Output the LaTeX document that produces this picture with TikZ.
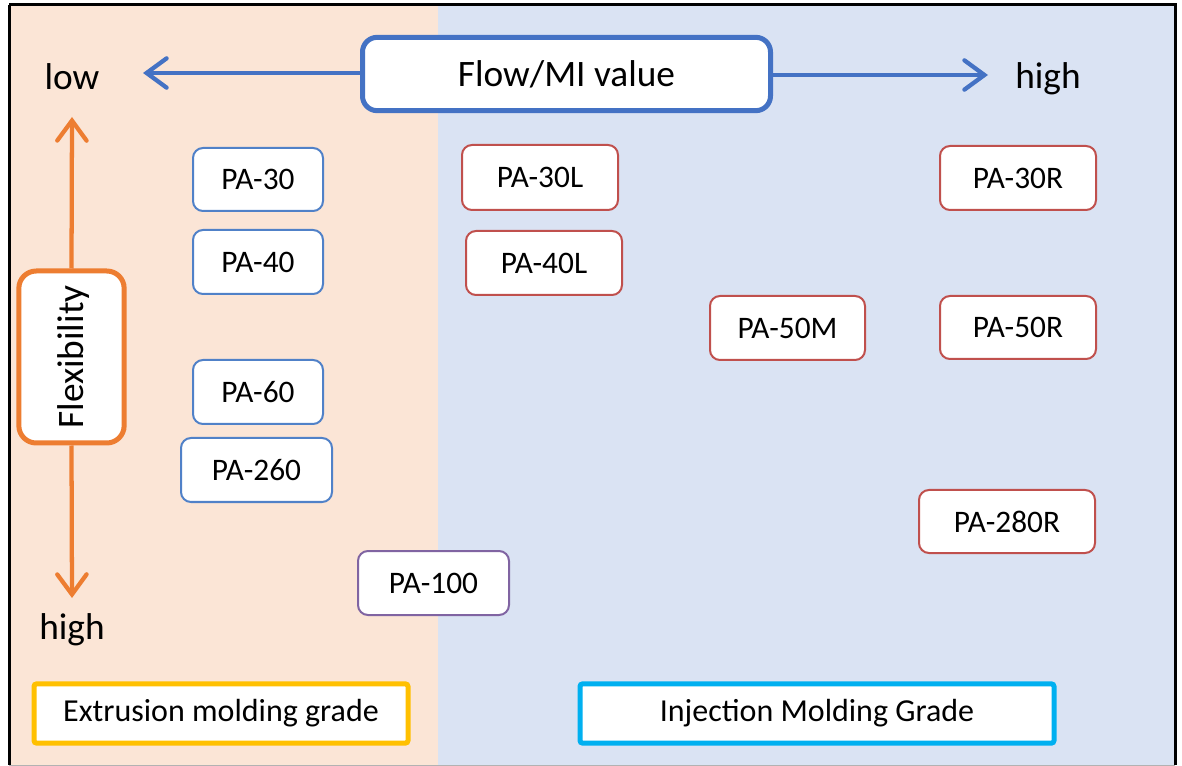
\documentclass[tikz,border=0pt]{standalone}
\usepackage{fontspec}
\setmainfont{Carlito}
\usetikzlibrary{arrows.meta}
\definecolor{beige}{HTML}{FBE5D6}
\definecolor{paleblue}{HTML}{DAE3F3}
\definecolor{mblue}{HTML}{4472C4}
\definecolor{bblue}{HTML}{5081C8}
\definecolor{mred}{HTML}{C0504D}
\definecolor{mpurple}{HTML}{8064A2}
\definecolor{morange}{HTML}{ED7D31}
\definecolor{mgold}{HTML}{FFC000}
\definecolor{mcyan}{HTML}{00B0F0}
\tikzset{
  pa/.style={draw, fill=white, rounded corners=7.5pt, line width=1.5pt, inner sep=0pt,
    font=\fontsize{23.5}{28}\selectfont},
  pablue/.style={pa, draw=bblue},
  pared/.style={pa, draw=mred},
  papurple/.style={pa, draw=mpurple},
  biglabel/.style={font=\fontsize{28}{33}\selectfont, inner sep=0pt},
  gradebox/.style={draw, fill=white, line width=3.75pt, rounded corners=2pt, inner sep=0pt,
    font=\fontsize{24}{28}\selectfont},
  axisarrow/.style={line width=3.2pt, -{Straight Barb[length=15pt, width=22pt, line cap=round]}}
}
\begin{document}
\begin{tikzpicture}[x=0.75pt, y=-0.75pt]
\useasboundingbox (0,0) rectangle (1182,766);
\fill[beige] (9,5) rectangle (438,765);
\fill[paleblue] (438,5) rectangle (1175,765);
\draw[line width=2.25pt, black] (9,5) -- (1175,5) -- (1175,765);
\draw[line width=2.25pt, black] (9,765) -- (9,5);
\draw[line width=0.75pt, black!30] (9,765) -- (1175,765);

% Flow / MI
\node[draw=mblue, fill=white, line width=3.75pt, rounded corners=11pt, minimum width=306pt, minimum height=55pt, font=\fontsize{28}{33}\selectfont] (flow) at (566.5,74) {Flow/MI value};
\node[biglabel] (low) at (72,77) {low};
\node[biglabel] (high1) at (1048,79) {high};
\coordinate (flowL) at (143,73);
\coordinate (flowR) at (988,75);
\draw[axisarrow, mblue] (flow.west |- 0,73) -- (flowL);
\draw[axisarrow, mblue] (flow.east |- 0,75) -- (flowR);

% Flexibility
\node[draw=morange, fill=white, line width=3.75pt, rounded corners=13pt, minimum width=79pt, minimum height=129pt] (flex) at (71.5,357) {};
\node[biglabel, rotate=90] (flextxt) at (74,357) {Flexibility};
\node[biglabel] (high2) at (72,630) {high};
\coordinate (flexT) at (72,117);
\coordinate (flexB) at (72,598);
\draw[axisarrow, morange] (flex.north) -- (flexT);
\draw[axisarrow, morange] (flex.south) -- (flexB);

% Extrusion grades
\node[pablue, minimum width=97.5pt, minimum height=47.25pt] (pa30) at (258,179.5) {PA-30};
\node[pablue, minimum width=97.5pt, minimum height=48pt] (pa40) at (258,262) {PA-40};
\node[pablue, minimum width=97.5pt, minimum height=48pt] (pa60) at (258,392) {PA-60};
\node[pablue, minimum width=113.25pt, minimum height=48pt] (pa260) at (256.5,470) {PA-260};
\node[papurple, minimum width=113.25pt, minimum height=48pt] (pa100) at (433.5,583) {PA-100};

% Injection grades
\node[pared, minimum width=117pt, minimum height=48.75pt] (pa30l) at (540,177.5) {PA-30L};
\node[pared, minimum width=117pt, minimum height=48pt] (pa40l) at (544,263) {PA-40L};
\node[pared, minimum width=116.25pt, minimum height=48pt] (pa50m) at (787.5,328) {PA-50M};
\node[pared, minimum width=117pt, minimum height=48pt] (pa30r) at (1018,178) {PA-30R};
\node[pared, minimum width=117pt, minimum height=47.25pt] (pa50r) at (1018,327.5) {PA-50R};
\node[pared, minimum width=132pt, minimum height=47.25pt] (pa280r) at (1007,521.5) {PA-280R};

% Grade labels
\node[gradebox, draw=mgold, minimum width=280.5pt, minimum height=44.5pt] (extr) at (221,713.5) {Extrusion molding grade};
\node[gradebox, draw=mcyan, minimum width=355.5pt, minimum height=44.5pt] (inj) at (817,713.5) {Injection Molding Grade};
\end{tikzpicture}
\end{document}
